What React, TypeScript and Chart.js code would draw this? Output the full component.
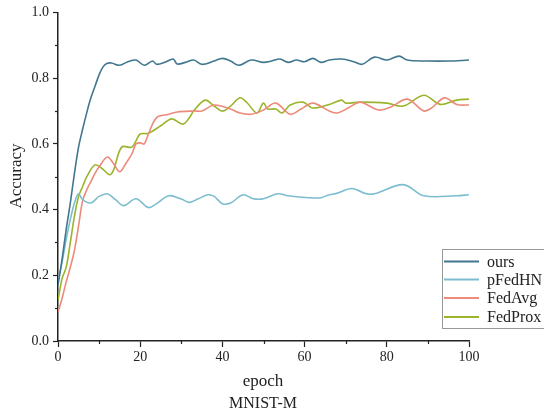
import React, { useEffect, useRef } from "react";
import { Chart, registerables } from "chart.js";

Chart.register(...registerables);

const seriesNames = ["ours", "pFedHN", "FedAvg", "FedProx"];
const seriesColors = ["#41778f", "#7dbdd0", "#ec8a7b", "#9bb52a"];

const oursX = [0, 1, 2, 3, 4, 5, 6, 7, 8, 9, 10, 11, 12, 13, 15, 17, 19, 21, 23, 24, 26, 28, 29, 31, 33, 35, 38, 40, 42, 44, 47, 50, 52, 54, 56, 58, 60, 62, 64, 66, 69, 72, 74, 77, 80, 83, 85, 90, 95, 100];
const oursY = [0.17, 0.25, 0.34, 0.42, 0.51, 0.59, 0.645, 0.695, 0.74, 0.775, 0.81, 0.835, 0.845, 0.846, 0.839, 0.85, 0.855, 0.839, 0.852, 0.842, 0.848, 0.858, 0.843, 0.848, 0.855, 0.842, 0.852, 0.86, 0.852, 0.839, 0.855, 0.848, 0.852, 0.858, 0.848, 0.855, 0.85, 0.86, 0.848, 0.855, 0.858, 0.85, 0.842, 0.864, 0.855, 0.867, 0.855, 0.852, 0.852, 0.855];

const pfedX = [0, 1, 2, 3, 4, 5, 6, 8, 10, 12, 14, 16, 19, 22, 24, 27, 30, 32, 34, 36.5, 38, 40, 42, 45, 47.5, 50, 53.5, 56, 61, 64, 66, 68, 71.5, 75, 77, 84, 89, 97, 100];
const pfedY = [0.18, 0.24, 0.31, 0.37, 0.42, 0.448, 0.43, 0.42, 0.44, 0.448, 0.43, 0.412, 0.433, 0.406, 0.418, 0.442, 0.432, 0.422, 0.432, 0.445, 0.44, 0.418, 0.42, 0.445, 0.433, 0.433, 0.448, 0.442, 0.436, 0.436, 0.445, 0.45, 0.464, 0.448, 0.448, 0.476, 0.442, 0.442, 0.445];

const avgX = [0, 1, 2, 3, 4, 5, 6, 7, 8, 9, 10, 12, 13.5, 15, 16.5, 18, 19, 20, 21, 22, 24, 27, 29, 33, 35, 38, 42, 44, 47, 50, 53, 56.5, 59, 62, 66, 68, 71, 73.5, 78, 81, 85, 89, 91, 94, 97, 100];
const avgY = [0.088, 0.13, 0.18, 0.225, 0.276, 0.35, 0.427, 0.46, 0.485, 0.51, 0.53, 0.56, 0.54, 0.515, 0.54, 0.57, 0.6, 0.603, 0.6, 0.63, 0.68, 0.69, 0.697, 0.7, 0.7, 0.718, 0.706, 0.695, 0.69, 0.703, 0.724, 0.69, 0.705, 0.724, 0.7, 0.694, 0.712, 0.727, 0.703, 0.712, 0.736, 0.7, 0.71, 0.74, 0.72, 0.718];

const proxX = [0, 1, 2, 3, 4, 5, 6, 7, 9, 10.7, 12.6, 13.5, 15.5, 18, 19, 20, 22, 25, 27.7, 30.4, 32, 33, 35.8, 38, 40, 42, 44.3, 46, 48.4, 50, 51, 53, 54.5, 56.5, 59.6, 62, 66, 69, 70, 73.5, 80, 84, 89, 93, 97, 100];
const proxY = [0.124, 0.19, 0.225, 0.3, 0.38, 0.44, 0.47, 0.5, 0.536, 0.525, 0.506, 0.52, 0.59, 0.59, 0.61, 0.63, 0.632, 0.655, 0.676, 0.66, 0.68, 0.7, 0.733, 0.715, 0.7, 0.715, 0.74, 0.725, 0.694, 0.724, 0.706, 0.706, 0.694, 0.718, 0.727, 0.709, 0.72, 0.733, 0.724, 0.727, 0.724, 0.715, 0.748, 0.72, 0.733, 0.736];

const xTitle = "epoch";
const subTitle = "MNIST-M";
const yTitle = "Accuracy";

const FONT = "'Liberation Serif', serif";

function pts(xs: number[], ys: number[]) {
  return xs.map((x, i) => ({ x, y: ys[i] }));
}

const decorPlugin = {
  id: "decor",
  afterDraw(chart: any) {
    const ctx = chart.ctx;
    const { left, bottom } = chart.chartArea;
    const xs = chart.scales.x;
    const ys = chart.scales.y;
    ctx.save();
    // minor ticks
    ctx.strokeStyle = "#222";
    ctx.lineWidth = 1.2;
    for (let v = 10; v < 100; v += 20) {
      const px = Math.round(xs.getPixelForValue(v)) + 0.5;
      ctx.beginPath();
      ctx.moveTo(px, bottom);
      ctx.lineTo(px, bottom + 3);
      ctx.stroke();
    }
    for (let v = 0.1; v < 1; v += 0.2) {
      const py = Math.round(ys.getPixelForValue(v)) + 0.5;
      ctx.beginPath();
      ctx.moveTo(left - 3, py);
      ctx.lineTo(left, py);
      ctx.stroke();
    }
    // titles
    ctx.fillStyle = "#222";
    ctx.font = `17px ${FONT}`;
    ctx.textAlign = "center";
    ctx.textBaseline = "middle";
    ctx.fillText(xTitle, 263, 382);
    ctx.font = `16px ${FONT}`;
    ctx.fillText(subTitle, 263, 404);
    ctx.save();
    ctx.translate(17, 176);
    ctx.rotate(-Math.PI / 2);
    ctx.font = `17px ${FONT}`;
    ctx.fillText(yTitle, 0, 0);
    ctx.restore();
    // legend
    const lx = 442.5, ly = 249.5, lw = 120, lh = 79;
    ctx.fillStyle = "#fff";
    ctx.fillRect(lx, ly, lw, lh);
    ctx.strokeStyle = "#999";
    ctx.lineWidth = 1;
    ctx.strokeRect(lx, ly, lw, lh);
    ctx.font = `16px ${FONT}`;
    ctx.textAlign = "left";
    const rows = [261.5, 279.5, 298, 317];
    seriesNames.forEach((name, i) => {
      ctx.strokeStyle = seriesColors[i];
      ctx.lineWidth = 2;
      ctx.beginPath();
      ctx.moveTo(444, rows[i]);
      ctx.lineTo(479, rows[i]);
      ctx.stroke();
      ctx.fillStyle = "#222";
      ctx.fillText(name, 487, rows[i] + 1);
    });
    ctx.restore();
  },
};

export default function App() {
  const ref = useRef<HTMLCanvasElement>(null);
  useEffect(() => {
    const allX = [oursX, pfedX, avgX, proxX];
    const allY = [oursY, pfedY, avgY, proxY];
    const chart = new Chart(ref.current as HTMLCanvasElement, {
      type: "line",
      data: {
        datasets: seriesNames.map((n, i) => ({
          label: n,
          data: pts(allX[i], allY[i]),
          borderColor: seriesColors[i],
          backgroundColor: seriesColors[i],
          borderWidth: 1.6,
          pointRadius: 0,
          tension: 0.35,
          fill: false,
        })),
      },
      options: {
        animation: false,
        responsive: false,
        layout: { padding: { left: 0, top: 11, right: 75, bottom: 0 } },
        plugins: { legend: { display: false }, tooltip: { enabled: false } },
        scales: {
          x: {
            type: "linear",
            min: 0,
            max: 100,
            afterFit: (s: any) => {
              s.height = 74;
            },
            ticks: {
              stepSize: 20,
              color: "#222",
              font: { family: FONT, size: 14 },
              padding: 2,
              maxRotation: 0,
            },
            grid: { drawOnChartArea: false, tickLength: 6, tickColor: "#222", tickWidth: 1.2 },
            border: { color: "#222", width: 1.5 },
          },
          y: {
            min: 0,
            max: 1,
            afterFit: (s: any) => {
              s.width = 58;
            },
            ticks: {
              stepSize: 0.2,
              color: "#222",
              font: { family: FONT, size: 14 },
              padding: 4,
              callback: (v: any) => Number(v).toFixed(1),
            },
            grid: { drawOnChartArea: false, tickLength: 5, tickColor: "#222", tickWidth: 1.2 },
            border: { color: "#222", width: 1.5 },
          },
        },
      },
      plugins: [decorPlugin],
    });
    return () => chart.destroy();
  }, []);
  return (
    <div style={{ position: "absolute", left: 0, top: 0, width: 544, height: 415, background: "#fff" }}>
      <canvas ref={ref} width={544} height={415} />
    </div>
  );
}
